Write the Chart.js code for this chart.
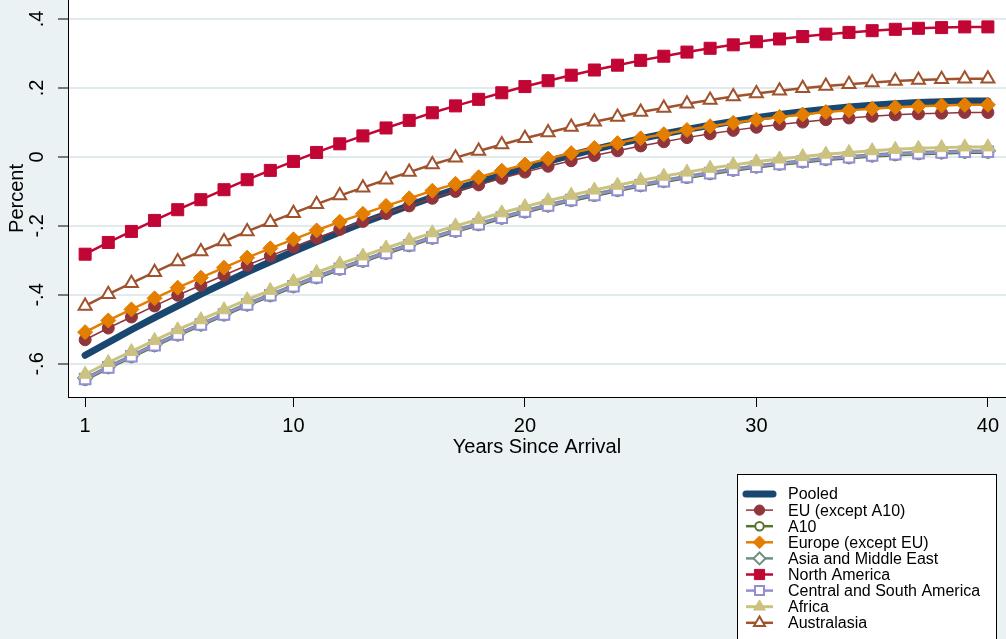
<!DOCTYPE html>
<html>
<head>
<meta charset="utf-8">
<script src="https://cdn.jsdelivr.net/npm/chart.js"></script>
<style>
  html, body { margin: 0; padding: 0; background: #eaf2f3; }
  #wrap { position: relative; width: 1006px; height: 639px; }
</style>
</head>
<body>
<div id="wrap"><canvas id="chart" width="1006" height="639"></canvas></div>
<script>
// years since arrival
const years = [1,2,3,4,5,6,7,8,9,10,11,12,13,14,15,16,17,18,19,20,21,22,23,24,25,26,27,28,29,30,31,32,33,34,35,36,37,38,39,40];

// predicted values
const pooled = [-0.575,-0.538,-0.501,-0.466,-0.432,-0.398,-0.366,-0.334,-0.304,-0.274,-0.246,-0.218,-0.191,-0.166,-0.141,-0.117,-0.094,-0.073,-0.052,-0.032,-0.013,0.005,0.022,0.038,0.053,0.067,0.080,0.092,0.103,0.114,0.123,0.131,0.138,0.145,0.150,0.154,0.158,0.160,0.162,0.162];
const euExA10 = [-0.530,-0.496,-0.464,-0.432,-0.401,-0.372,-0.343,-0.314,-0.287,-0.261,-0.235,-0.210,-0.187,-0.164,-0.142,-0.120,-0.100,-0.081,-0.062,-0.044,-0.027,-0.011,0.004,0.018,0.032,0.044,0.056,0.067,0.077,0.086,0.094,0.101,0.108,0.113,0.118,0.122,0.125,0.127,0.129,0.129];
const a10 = [-0.647,-0.613,-0.581,-0.549,-0.518,-0.489,-0.460,-0.431,-0.404,-0.378,-0.352,-0.327,-0.304,-0.281,-0.259,-0.237,-0.217,-0.198,-0.179,-0.161,-0.144,-0.128,-0.113,-0.099,-0.085,-0.073,-0.061,-0.050,-0.040,-0.031,-0.023,-0.016,-0.009,-0.004,0.001,0.005,0.008,0.010,0.012,0.012];
const europeExEU = [-0.508,-0.474,-0.442,-0.410,-0.379,-0.350,-0.321,-0.292,-0.265,-0.239,-0.213,-0.188,-0.165,-0.142,-0.120,-0.098,-0.078,-0.059,-0.040,-0.022,-0.005,0.011,0.026,0.040,0.054,0.066,0.078,0.089,0.099,0.108,0.116,0.123,0.130,0.135,0.140,0.144,0.147,0.149,0.151,0.151];
const asiaME = [-0.641,-0.607,-0.575,-0.543,-0.512,-0.483,-0.454,-0.425,-0.398,-0.372,-0.346,-0.321,-0.298,-0.275,-0.253,-0.231,-0.211,-0.192,-0.173,-0.155,-0.138,-0.122,-0.107,-0.093,-0.079,-0.067,-0.055,-0.044,-0.034,-0.025,-0.017,-0.010,-0.003,0.002,0.007,0.011,0.014,0.016,0.018,0.018];
const northAmerica = [-0.282,-0.248,-0.216,-0.184,-0.153,-0.124,-0.095,-0.066,-0.039,-0.013,0.013,0.038,0.061,0.084,0.106,0.128,0.148,0.167,0.186,0.204,0.221,0.237,0.252,0.266,0.280,0.292,0.304,0.315,0.325,0.334,0.342,0.349,0.356,0.361,0.366,0.370,0.373,0.375,0.377,0.377];
const centralSouthAm = [-0.644,-0.610,-0.578,-0.546,-0.515,-0.486,-0.457,-0.428,-0.401,-0.375,-0.349,-0.324,-0.301,-0.278,-0.256,-0.234,-0.214,-0.195,-0.176,-0.158,-0.141,-0.125,-0.110,-0.096,-0.082,-0.070,-0.058,-0.047,-0.037,-0.028,-0.020,-0.013,-0.006,-0.001,0.004,0.008,0.011,0.013,0.015,0.015];
const africa = [-0.630,-0.596,-0.564,-0.532,-0.501,-0.472,-0.443,-0.414,-0.387,-0.361,-0.335,-0.310,-0.287,-0.264,-0.242,-0.220,-0.200,-0.181,-0.162,-0.144,-0.127,-0.111,-0.096,-0.082,-0.068,-0.056,-0.044,-0.033,-0.023,-0.014,-0.006,0.001,0.008,0.013,0.018,0.022,0.025,0.027,0.029,0.029];
const australasia = [-0.432,-0.398,-0.366,-0.334,-0.303,-0.274,-0.245,-0.216,-0.189,-0.163,-0.137,-0.112,-0.089,-0.066,-0.044,-0.022,-0.002,0.017,0.036,0.054,0.071,0.087,0.102,0.116,0.130,0.142,0.154,0.165,0.175,0.184,0.192,0.199,0.206,0.211,0.216,0.220,0.223,0.225,0.227,0.227];

const yTicks = [-0.6, -0.4, -0.2, 0, 0.2, 0.4];
const yTickLabels = ["-.6", "-.4", "-.2", "0", ".2", ".4"];
const xTicks = [1, 10, 20, 30, 40];

const FONT = '"Liberation Sans", Arial, sans-serif';

function series(label, values, color, opts) {
  return Object.assign({
    label: label,
    data: years.map((x, i) => ({ x: x, y: values[i] })),
    borderColor: color,
    backgroundColor: color,
    borderWidth: 2.5,
    pointStyle: 'circle',
    pointRadius: 6,
    pointBackgroundColor: color,
    pointBorderColor: color,
    pointBorderWidth: 1,
    tension: 0,
    fill: false
  }, opts);
}

const datasets = [
  series('Pooled', pooled, '#1a476f', { borderWidth: 7, pointRadius: 0, borderCapStyle: 'round', order: 9 }),
  series('EU (except A10)', euExA10, '#90353b', { borderWidth: 1.5, pointRadius: 6, order: 8 }),
  series('A10', a10, '#55752f', { pointRadius: 5, pointBackgroundColor: '#fff', pointBorderWidth: 2, order: 7 }),
  series('Europe (except EU)', europeExEU, '#e37e00', { pointStyle: 'rectRot', pointRadius: 7.5, order: 6 }),
  series('Asia and Middle East', asiaME, '#6e8e84', { pointStyle: 'rectRot', pointRadius: 7, pointBackgroundColor: '#fff', pointBorderWidth: 2, order: 5 }),
  series('North America', northAmerica, '#c10534', { pointStyle: 'rect', pointRadius: 8.5, order: 4 }),
  series('Central and South America', centralSouthAm, '#938dd2', { pointStyle: 'rect', pointRadius: 7.5, pointBackgroundColor: '#fff', pointBorderWidth: 2, order: 3 }),
  series('Africa', africa, '#cac27e', { pointStyle: 'triangle', pointRadius: 8, borderWidth: 3, order: 2 }),
  series('Australasia', australasia, '#a0522d', { pointStyle: 'triangle', pointRadius: 7.5, pointBackgroundColor: '#fff', pointBorderWidth: 2, order: 1 })
];

function drawMarker(ctx, style, x, y, r, fill, stroke, bw) {
  ctx.beginPath();
  if (style === 'circle') {
    ctx.arc(x, y, r, 0, Math.PI * 2);
  } else if (style === 'rect') {
    const s = r * Math.SQRT1_2;
    ctx.rect(x - s, y - s, 2 * s, 2 * s);
  } else if (style === 'rectRot') {
    ctx.moveTo(x, y - r); ctx.lineTo(x + r, y); ctx.lineTo(x, y + r); ctx.lineTo(x - r, y);
    ctx.closePath();
  } else if (style === 'triangle') {
    for (let k = 0; k < 3; k++) {
      const a = k * 2 * Math.PI / 3;
      const px = x + Math.sin(a) * r, py = y - Math.cos(a) * r;
      if (k === 0) ctx.moveTo(px, py); else ctx.lineTo(px, py);
    }
    ctx.closePath();
  }
  ctx.fillStyle = fill;
  ctx.fill();
  ctx.lineWidth = bw;
  ctx.strokeStyle = stroke;
  ctx.stroke();
}

const background = {
  id: 'background',
  beforeDraw(chart) {
    const { ctx, chartArea: a } = chart;
    ctx.save();
    ctx.fillStyle = '#eaf2f3';
    ctx.fillRect(0, 0, chart.width, chart.height);
    ctx.fillStyle = '#ffffff';
    ctx.fillRect(a.left, a.top, a.right - a.left, a.bottom - a.top);
    ctx.restore();
  }
};

// stata style vertical y tick labels
const yLabels = {
  id: 'yLabels',
  afterDraw(chart) {
    const ctx = chart.ctx, y = chart.scales.y;
    ctx.save();
    ctx.font = '20px ' + FONT;
    ctx.fillStyle = '#000';
    ctx.textAlign = 'center';
    ctx.textBaseline = 'middle';
    yTicks.forEach((v, i) => {
      ctx.save();
      ctx.translate(37, y.getPixelForValue(v));
      ctx.rotate(-Math.PI / 2);
      ctx.fillText(yTickLabels[i], 0, 0);
      ctx.restore();
    });
    ctx.restore();
  }
};

// legend box in the lower right
const legendBox = {
  id: 'legendBox',
  afterDraw(chart) {
    const ctx = chart.ctx;
    const bx = 737, by = 474, bw = 259, bh = 180;
    ctx.save();
    ctx.fillStyle = '#fff';
    ctx.fillRect(bx, by, bw, bh);
    ctx.strokeStyle = '#000';
    ctx.lineWidth = 1;
    ctx.strokeRect(bx + 0.5, by + 0.5, bw, bh);
    ctx.font = '16px ' + FONT;
    ctx.textAlign = 'left';
    ctx.textBaseline = 'middle';
    chart.data.datasets.forEach((ds, i) => {
      const cy = 494 + i * 16.1;
      ctx.beginPath();
      ctx.moveTo(746, cy);
      ctx.lineTo(773, cy);
      ctx.lineWidth = ds.borderWidth;
      ctx.strokeStyle = ds.borderColor;
      ctx.lineCap = ds.borderCapStyle || 'butt';
      ctx.stroke();
      ctx.lineCap = 'butt';
      if (ds.pointRadius > 0) {
        drawMarker(ctx, ds.pointStyle, 759.5, cy, ds.pointRadius * 0.85, ds.pointBackgroundColor, ds.pointBorderColor, ds.pointBorderWidth);
      }
      ctx.fillStyle = '#000';
      ctx.fillText(ds.label, 788, cy + 1);
    });
    ctx.restore();
  }
};

new Chart(document.getElementById('chart'), {
  type: 'line',
  data: { datasets: datasets },
  options: {
    responsive: false,
    animation: false,
    events: [],
    layout: { autoPadding: false, padding: { left: 0, right: 0, top: 0, bottom: 172 } },
    plugins: {
      legend: { display: false },
      tooltip: { enabled: false }
    },
    scales: {
      x: {
        type: 'linear',
        min: 0.26,
        max: 40.78,
        afterBuildTicks: s => { s.ticks = xTicks.map(v => ({ value: v })); },
        afterFit: s => { s.height = 70; },
        grid: { drawOnChartArea: false, drawTicks: true, tickLength: 10, tickColor: '#000', tickWidth: 1 },
        border: { display: true, color: '#000', width: 1 },
        ticks: { color: '#000', font: { family: FONT, size: 20 }, padding: 7, maxRotation: 0, autoSkip: false, callback: v => String(v) },
        title: { display: true, text: 'Years Since Arrival', color: '#000', font: { family: FONT, size: 20 }, padding: { top: 0, bottom: 8 } }
      },
      y: {
        type: 'linear',
        min: -0.696,
        max: 0.455,
        afterBuildTicks: s => { s.ticks = yTicks.map(v => ({ value: v })); },
        afterFit: s => { s.width = 68; },
        grid: { color: '#e1eaed', lineWidth: 2, drawTicks: true, tickLength: 10, tickColor: '#000', tickWidth: 1 },
        border: { display: true, color: '#000', width: 1 },
        ticks: { display: false },
        title: { display: true, text: 'Percent', color: '#000', font: { family: FONT, size: 20 }, padding: { top: 5, bottom: 0 } }
      }
    }
  },
  plugins: [background, yLabels, legendBox]
});
</script>
</body>
</html>
